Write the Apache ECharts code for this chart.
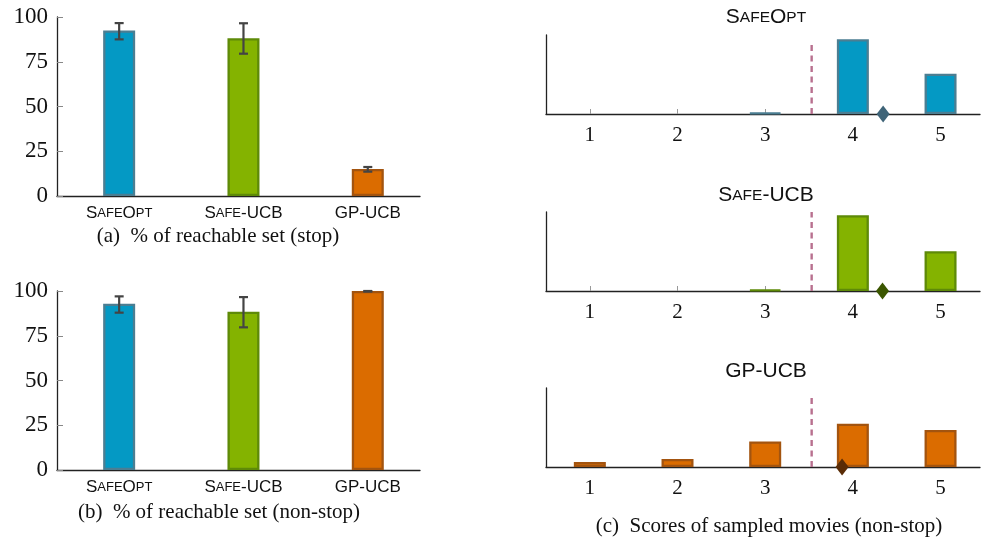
<!DOCTYPE html>
<html>
<head>
<meta charset="utf-8">
<script src="https://cdn.jsdelivr.net/npm/echarts@6/dist/echarts.min.js"></script>
<style>html,body{margin:0;padding:0;background:#fff;}#chart{width:981px;height:537px;}</style>
</head>
<body>
<div id="chart"></div>
<script>
// ---- data ----
const methods = ['SafeOpt', 'Safe-UCB', 'GP-UCB'];
const reachStop = [92.5, 88.1, 15.1];
const reachStopLow = [87.5, 79.5, 13.6];
const reachStopHigh = [96.6, 96.5, 16.2];
const reachNonstop = [92.9, 88.4, 100];
const reachNonstopLow = [87.9, 79.7, 99.7];
const reachNonstopHigh = [97.0, 96.6, 100];
const yTicks = [0, 25, 50, 75, 100];
const scores = [1, 2, 3, 4, 5];
const scoreSafeOpt = [0, 0, 0.011, 0.634, 0.342];
const scoreSafeUCB = [0, 0, 0.012, 0.642, 0.337];
const scoreGPUCB = [0.042, 0.068, 0.217, 0.367, 0.314];
const meanScore = [4.345, 4.338, 3.877];
const threshold = 3.53;
const thresholdTop = [0.605, 0.67, 0.613];
const captions = ['(a)\u2002% of reachable set (stop)', '(b)\u2002% of reachable set (non-stop)', '(c)\u2002Scores of sampled movies (non-stop)'];

// ---- styles ----
const fills = ['#0499c4', '#84b300', '#db6c00'];
const borders = ['#4b7e92', '#5e8a08', '#a3540f'];
const diamonds = ['#3f6478', '#3b5600', '#5a2c06'];
const SANS = 'Liberation Sans';
const SERIF = 'Liberation Serif';

function smallCaps(name) {
  let s = '';
  for (const ch of name) {
    if (ch >= 'a' && ch <= 'z') s += '{b|' + ch.toUpperCase() + '}';
    else s += '{a|' + ch + '}';
  }
  return s;
}

const chart = echarts.init(document.getElementById('chart'), null, {renderer: 'canvas'});

const grids = [
  {left: 57, top: 17, width: 363, height: 179},
  {left: 57, top: 291, width: 363, height: 179},
  {left: 546, top: 35, width: 434, height: 79},
  {left: 546, top: 212, width: 434, height: 79},
  {left: 546, top: 388, width: 434, height: 79}
];

const xAxes = [], yAxes = [], series = [];
const axisLineStyle = {color: '#222', width: 1.3};

[0, 1].forEach(g => {
  xAxes.push({
    type: 'value', gridIndex: g, min: 0.5, max: 3.42,
    axisLine: {show: true, onZero: false, lineStyle: axisLineStyle},
    axisTick: {show: false},
    splitLine: {show: false},
    axisLabel: {
      customValues: [1, 2, 3], margin: 9,
      formatter: v => smallCaps(methods[Math.round(v) - 1]),
      rich: {
        a: {fontFamily: SANS, fontSize: 17, color: '#111'},
        b: {fontFamily: SANS, fontSize: 13, color: '#111'}
      }
    }
  });
  yAxes.push({
    type: 'value', gridIndex: g, min: 0, max: 100, interval: 25,
    axisLine: {show: true, lineStyle: axisLineStyle},
    axisTick: {show: true, inside: true, length: 6, lineStyle: {color: '#888', width: 1}},
    splitLine: {show: false},
    axisLabel: {fontFamily: SERIF, fontSize: 23, color: '#111', margin: 9}
  });
});
[2, 3, 4].forEach(g => {
  xAxes.push({
    type: 'value', gridIndex: g, min: 0.5, max: 5.45,
    axisLine: {show: true, onZero: false, lineStyle: axisLineStyle},
    axisTick: {show: true, customValues: scores, inside: true, length: 5, lineStyle: {color: '#999', width: 1}},
    splitLine: {show: false},
    axisLabel: {customValues: scores, fontFamily: SERIF, fontSize: 21, color: '#111', margin: 11}
  });
  yAxes.push({
    type: 'value', gridIndex: g, min: 0, max: 0.67,
    axisLine: {show: true, lineStyle: axisLineStyle},
    axisTick: {show: false}, axisLabel: {show: false}, splitLine: {show: false}
  });
});

function errRender(params, api) {
  const x = api.value(0);
  const lo = api.coord([x, api.value(1)]);
  const hi = api.coord([x, api.value(2)]);
  const hw = 4.5;
  const st = {stroke: '#444', lineWidth: 2.2};
  return {type: 'group', children: [
    {type: 'line', shape: {x1: lo[0], y1: lo[1], x2: hi[0], y2: hi[1]}, style: st},
    {type: 'line', shape: {x1: lo[0] - hw, y1: lo[1], x2: lo[0] + hw, y2: lo[1]}, style: st},
    {type: 'line', shape: {x1: hi[0] - hw, y1: hi[1], x2: hi[0] + hw, y2: hi[1]}, style: st}
  ]};
}

[[reachStop, reachStopLow, reachStopHigh], [reachNonstop, reachNonstopLow, reachNonstopHigh]].forEach((set, g) => {
  series.push({
    type: 'bar', xAxisIndex: g, yAxisIndex: g, barWidth: 32,
    data: set[0].map((v, i) => ({value: [i + 1, v], itemStyle: {color: fills[i], borderColor: borders[i], borderWidth: 2.3}}))
  });
  series.push({
    type: 'custom', xAxisIndex: g, yAxisIndex: g, renderItem: errRender, clip: false, z: 5,
    data: set[0].map((v, i) => [i + 1, set[1][i], set[2][i]])
  });
});

[scoreSafeOpt, scoreSafeUCB, scoreGPUCB].forEach((arr, k) => {
  const g = k + 2;
  series.push({
    type: 'bar', xAxisIndex: g, yAxisIndex: g, barWidth: 32,
    itemStyle: {color: fills[k], borderColor: borders[k], borderWidth: 2.3},
    data: arr.map((v, i) => [scores[i], v === 0 ? null : v])
  });
  series.push({
    type: 'line', xAxisIndex: g, yAxisIndex: g, symbol: 'none', silent: true,
    lineStyle: {color: '#b8708f', width: 2.4, type: [6, 4.5]},
    data: [[threshold, 0], [threshold, thresholdTop[k]]]
  });
  series.push({
    type: 'scatter', xAxisIndex: g, yAxisIndex: g, symbol: 'diamond', symbolSize: [13, 17],
    clip: false, z: 6,
    itemStyle: {color: diamonds[k], opacity: 1},
    data: [[meanScore[k], 0]]
  });
});

const richTitle = {
  a: {fontFamily: SANS, fontSize: 21, fontWeight: 'normal', color: '#111'},
  b: {fontFamily: SANS, fontSize: 15.5, fontWeight: 'normal', color: '#111'}
};
const titles = [
  {text: smallCaps(methods[0]), left: 766, top: 7},
  {text: smallCaps(methods[1]), left: 766, top: 185},
  {text: smallCaps(methods[2]), left: 766, top: 361}
].map(t => Object.assign(t, {textAlign: 'center', padding: 0, textStyle: {fontWeight: 'normal', rich: richTitle}}));
const capPos = [[218, 226], [219, 502], [769, 516]];
captions.forEach((c, i) => titles.push({
  text: c, left: capPos[i][0], top: capPos[i][1], textAlign: 'center', padding: 0,
  textStyle: {fontFamily: SERIF, fontSize: 21, fontWeight: 'normal', color: '#111'}
}));

chart.setOption({
  animation: false,
  backgroundColor: '#fff',
  title: titles,
  grid: grids,
  xAxis: xAxes,
  yAxis: yAxes,
  series: series
});
</script>
</body>
</html>
